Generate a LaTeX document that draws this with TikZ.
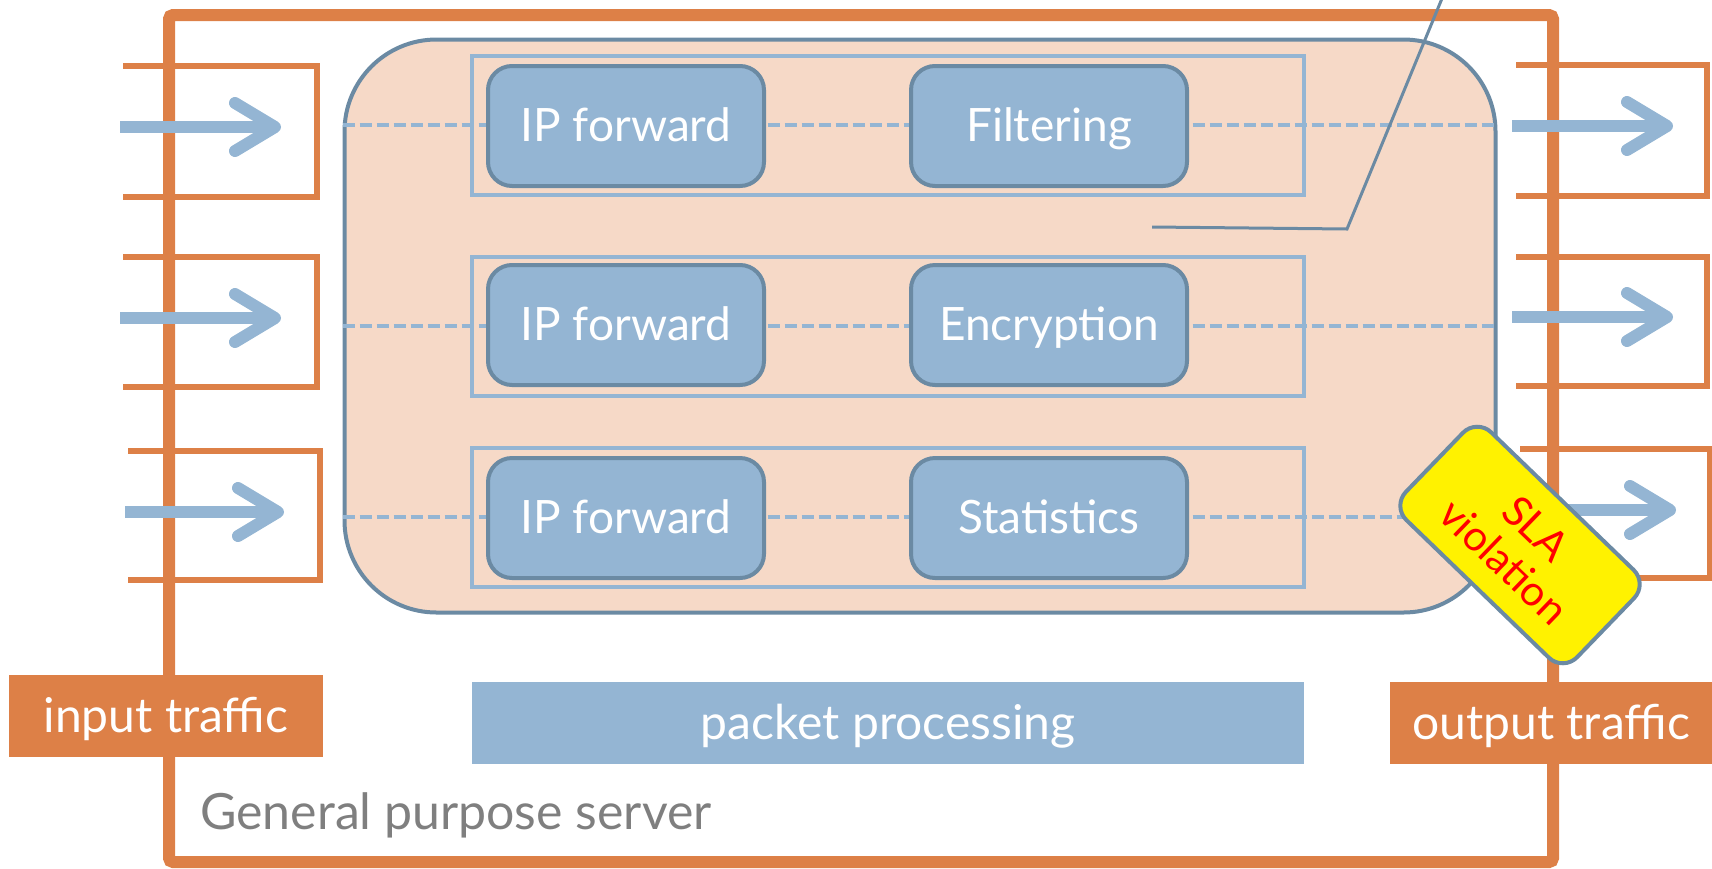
\documentclass[tikz,border=0pt]{standalone}
\usepackage{fontspec}
\setmainfont{Lato}
\usetikzlibrary{arrows.meta, positioning}

\definecolor{srvorange}{HTML}{DD8047}
\definecolor{pktblue}{HTML}{94B5D3}
\definecolor{edgeblue}{HTML}{6B8AA3}
\definecolor{areapeach}{HTML}{F6D9C7}
\definecolor{servergray}{HTML}{7F7F7F}

\begin{document}
\begin{tikzpicture}[x=1pt, y=-1pt,
    portline/.style={srvorange, line width=6pt},
    flow/.style={pktblue, line width=12pt, -{Straight Barb[length=40pt, width=48pt, round]}},
    pathdash/.style={pktblue, line width=4.5pt, dash pattern=on 12pt off 5pt},
    rowframe/.style={draw=pktblue, line width=4pt, minimum width=832pt, minimum height=139pt},
    funcbox/.style={draw=edgeblue, fill=pktblue, line width=4pt, rounded corners=24pt,
      minimum width=276pt, minimum height=120pt, text=white, text height=30pt, text depth=0pt,
      font=\fontsize{46}{54}\selectfont},
    tag/.style={text=white, minimum height=82pt, inner sep=0pt, text height=32pt, text depth=0pt,
      font=\fontsize{48}{56}\selectfont}]
  \useasboundingbox (0,0) rectangle (1712,868);

  % general purpose server
  \draw[srvorange, line width=12pt, rounded corners=4pt] (169,15) rectangle (1553,862);

  % ports and traffic arrows
  \foreach \n/\xa/\xb/\ya/\yb/\ay in {1/123/317/66/197/127, 2/123/317/257/387/318, 3/128/320/451/580/512} {
    \draw[portline] (\xa,\ya) -- (\xb,\ya) -- (\xb,\yb) -- (\xa,\yb);
    \coordinate (in\n s) at (\xa-3,\ay);
    \coordinate (in\n e) at (\xb-36,\ay);
    \draw[flow] (in\n s) -- (in\n e);
  }
  \foreach \n/\xa/\xb/\ya/\yb/\ay in {1/1516/1707/65/196/126, 2/1516/1707/257/386/317, 3/1520/1710/449/578/510} {
    \draw[portline] (\xa,\ya) -- (\xb,\ya) -- (\xb,\yb) -- (\xa,\yb);
    \coordinate (out\n s) at (\xa-4,\ay);
    \coordinate (out\n e) at (\xb-34,\ay);
    \draw[flow] (out\n s) -- (out\n e);
  }

  % processing area
  \node[draw=edgeblue, fill=areapeach, line width=4pt, rounded corners=92pt,
    minimum width=1151pt, minimum height=573pt] (area) at (920,326) {};

  \node[rowframe] (row1) at (888,125) {};
  \node[rowframe] (row2) at (888,326) {};
  \node[rowframe] (row3) at (888,517) {};

  \foreach \r in {1,2,3}
    \draw[pathdash] (area.west |- row\r) -- (area.east |- row\r);

  \node[funcbox] (fwd1) at (626,126) {IP forward};
  \node[funcbox] (filter) at (1049,126) {Filtering};
  \node[funcbox] (fwd2) at (626,325) {IP forward};
  \node[funcbox] (crypt) at (1049,325) {Encryption};
  \node[funcbox] (fwd3) at (626,518) {IP forward};
  \node[funcbox] (stats) at (1049,518) {Statistics};

  % callout
  \coordinate (callfoot) at (1152,227);
  \coordinate (callknee) at (1347,229);
  \coordinate (calltop) at (1443,-4);
  \draw[edgeblue, line width=3pt] (callfoot) -- (callknee) -- (calltop);

  % labels
  \node[tag, fill=srvorange, minimum width=314pt] (input) at (166,716) {input traffic};
  \node[tag, fill=srvorange, minimum width=323pt] (output) at (1551,723) {output traffic};
  \node[tag, fill=pktblue, minimum width=832pt] (pkt) at (888,723) {packet processing};
  \node[anchor=west, text=servergray, inner sep=0pt, font=\fontsize{50}{58}\selectfont] (server) at (200,815) {General purpose server};

  \node[draw=edgeblue, fill=yellow, line width=4pt, rounded corners=20pt, rotate=-44,
    minimum width=238pt, minimum height=122pt, align=center, text=red,
    font=\fontsize{42}{46}\selectfont] (sla) at (1520,545) {SLA\\violation};
\end{tikzpicture}
\end{document}
